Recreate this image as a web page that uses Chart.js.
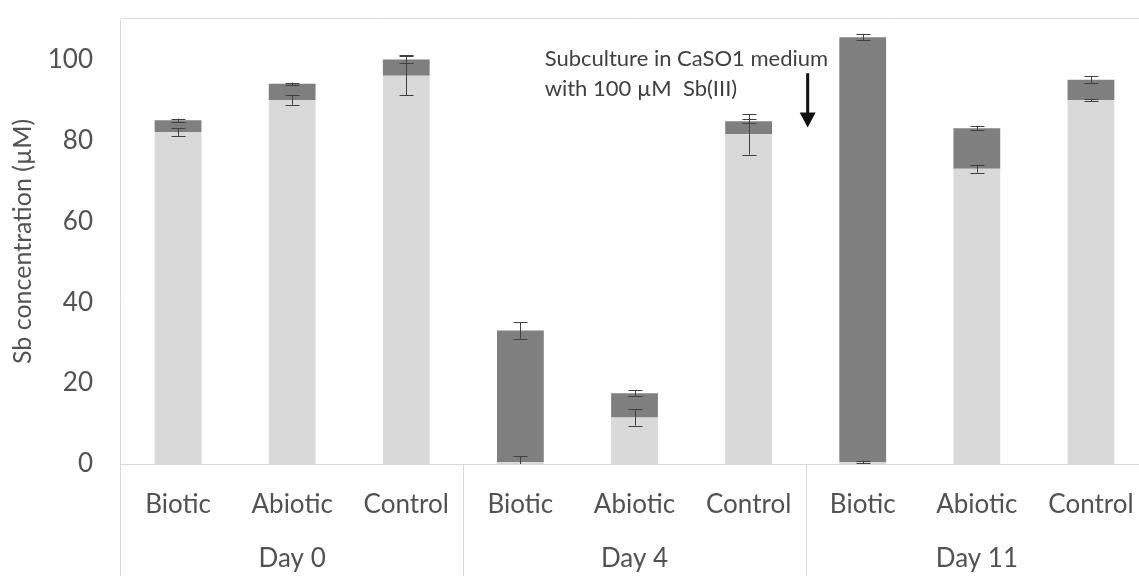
<!DOCTYPE html>
<html>
<head>
<meta charset="utf-8">
<script src="https://cdn.jsdelivr.net/npm/chart.js@4"></script>
<style>
  html, body { margin: 0; padding: 0; background: #fff; overflow: hidden; }
  #wrap { width: 1148px; height: 576px; }
</style>
</head>
<body>
<div id="wrap"><canvas id="sbChart" width="1148" height="576"></canvas></div>
<script>
// Categories
const treatments = ["Biotic", "Abiotic", "Control", "Biotic", "Abiotic", "Control", "Biotic", "Abiotic", "Control"];
const days = ["Day 0", "Day 4", "Day 11"];

// Light segment (bottom) and dark segment (top), µM
const lightValues = [82, 90, 96, 0.5, 11.5, 81.5, 0.5, 73, 90];
const darkValues = [3, 4, 4, 32.5, 6, 3.2, 105, 10, 5];

// Error bars (half widths)
const lightErr = [1, 1.2, 4.8, 1.5, 2, 5, 0.3, 1, 0.3];
const darkErr = [0.4, 0.3, 1, 2, 0.7, 0.5, 0.8, 0.5, 0.8];

// Y ticks
const yTicks = [0, 20, 40, 60, 80, 100];

const noteLines = ["Subculture in CaSO1 medium", "with 100 \u00b5M  Sb(III)"];

const textColor = "#525252";
const lineColor = "#d9d9d9";
const fontFamily = "Lato, 'Open Sans', sans-serif";

// error bars drawn on top of each segment
const errorBars = {
  id: "errorBars",
  afterDatasetsDraw(chart) {
    const ctx = chart.ctx;
    const y = chart.scales.y;
    const errs = [lightErr, darkErr];
    ctx.save();
    ctx.strokeStyle = "#404040";
    ctx.lineWidth = 1;
    chart.data.datasets.forEach((ds, d) => {
      const meta = chart.getDatasetMeta(d);
      meta.data.forEach((bar, i) => {
        let top = 0;
        for (let k = 0; k <= d; k++) top += chart.data.datasets[k].data[i];
        const e = errs[d][i];
        const y1 = y.getPixelForValue(top + e);
        const y2 = y.getPixelForValue(Math.max(top - e, 0));
        const x = Math.round(bar.x) + 0.5;
        ctx.beginPath();
        ctx.moveTo(x, y1); ctx.lineTo(x, y2);
        ctx.moveTo(x - 7, Math.round(y1) + 0.5); ctx.lineTo(x + 7, Math.round(y1) + 0.5);
        ctx.moveTo(x - 7, Math.round(y2) + 0.5); ctx.lineTo(x + 7, Math.round(y2) + 0.5);
        ctx.stroke();
      });
    });
    ctx.restore();
  }
};

// frame, group labels and the subculture note
const frame = {
  id: "frame",
  afterDraw(chart) {
    const ctx = chart.ctx;
    const area = chart.chartArea;
    const x = chart.scales.x;
    const y = chart.scales.y;
    const H = chart.height;
    ctx.save();
    ctx.strokeStyle = lineColor;
    ctx.lineWidth = 1;
    ctx.beginPath();
    ctx.moveTo(area.left, area.top - 0.5); ctx.lineTo(area.right, area.top - 0.5);
    ctx.moveTo(area.left - 0.5, area.top); ctx.lineTo(area.left - 0.5, H);
    ctx.moveTo(area.left, area.bottom + 0.5); ctx.lineTo(area.right, area.bottom + 0.5);
    for (let g = 1; g < days.length; g++) {
      const bx = Math.round((x.getPixelForValue(g * 3 - 1) + x.getPixelForValue(g * 3)) / 2) + 0.5;
      ctx.moveTo(bx, area.bottom); ctx.lineTo(bx, H);
    }
    ctx.stroke();

    ctx.fillStyle = textColor;
    ctx.font = "26px " + fontFamily;
    ctx.textAlign = "center";
    ctx.textBaseline = "middle";
    days.forEach((d, g) => {
      ctx.fillText(d, x.getPixelForValue(g * 3 + 1), 559);
    });

    // note + arrow between Day 4 and Day 11
    const ax = (x.getPixelForValue(5) + x.getPixelForValue(6)) / 2;
    ctx.fillStyle = "#404040";
    ctx.font = "22px " + fontFamily;
    ctx.textAlign = "left";
    ctx.textBaseline = "alphabetic";
    ctx.fillText(noteLines[0], ax - 261, y.getPixelForValue(98.5));
    ctx.fillText(noteLines[1], ax - 261, y.getPixelForValue(91));

    const yA = y.getPixelForValue(96.6);
    const yB = y.getPixelForValue(83.2);
    ctx.strokeStyle = "#111";
    ctx.fillStyle = "#111";
    ctx.lineWidth = 3;
    ctx.beginPath();
    ctx.moveTo(ax + 2, yA); ctx.lineTo(ax + 2, yB - 12);
    ctx.stroke();
    ctx.beginPath();
    ctx.moveTo(ax + 2 - 8, yB - 15);
    ctx.lineTo(ax + 2 + 8, yB - 15);
    ctx.lineTo(ax + 2, yB);
    ctx.closePath();
    ctx.fill();
    ctx.restore();
  }
};

const ctx = document.getElementById("sbChart").getContext("2d");

const sbChart = new Chart(ctx, {
  type: "bar",
  data: {
    labels: treatments,
    datasets: [
      {
        label: "light",
        data: lightValues,
        backgroundColor: "#d9d9d9",
        categoryPercentage: 1,
        barPercentage: 0.41,
      },
      {
        label: "dark",
        data: darkValues,
        backgroundColor: "#7f7f7f",
        categoryPercentage: 1,
        barPercentage: 0.41,
      },
    ],
  },
  options: {
    responsive: false,
    animation: false,
    layout: { padding: { top: 19, left: 0, right: 0, bottom: 0 } },
    plugins: {
      legend: { display: false },
      tooltip: { enabled: false },
    },
    scales: {
      x: {
        stacked: true,
        grid: { display: false, drawTicks: false },
        border: { display: false },
        ticks: {
          color: textColor,
          padding: 25,
          maxRotation: 0,
          autoSkip: false,
          font: { family: fontFamily, size: 26 },
        },
        afterFit(scale) {
          scale.height = 112;
          scale.paddingLeft = 0;
          scale.paddingRight = 0;
        },
      },
      y: {
        stacked: true,
        min: 0,
        max: 110,
        grid: { display: false, drawTicks: false },
        border: { display: false },
        afterBuildTicks(scale) {
          scale.ticks = yTicks.map(v => ({ value: v }));
        },
        ticks: {
          color: textColor,
          padding: 28,
          font: { family: fontFamily, size: 26 },
        },
        title: {
          display: true,
          text: "Sb concentration (\u00b5M)",
          color: textColor,
          padding: { top: 8, bottom: 4 },
          font: { family: fontFamily, size: 25 },
        },
        afterFit(scale) {
          scale.width = 121;
          scale.paddingTop = 0;
          scale.paddingBottom = 0;
        },
      },
    },
  },
  plugins: [errorBars, frame],
});
</script>
</body>
</html>
